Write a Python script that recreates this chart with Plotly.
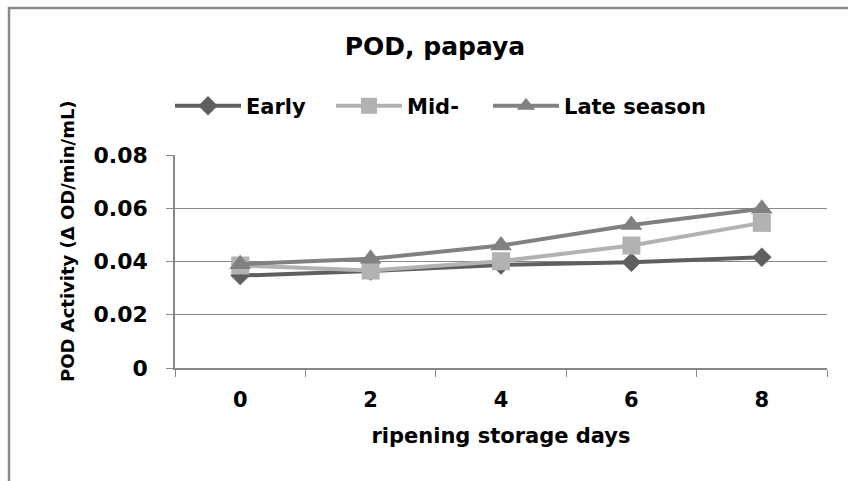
import plotly.graph_objects as go

days = ["0", "2", "4", "6", "8"]
early = [0.0347, 0.0364, 0.0387, 0.0397, 0.0416]
mid = [0.0385, 0.0366, 0.0401, 0.0460, 0.0545]
late = [0.0390, 0.0410, 0.0460, 0.0537, 0.0598]
series_names = ["Early", "Mid-", "Late season"]
y_ticks = [0, 0.02, 0.04, 0.06, 0.08]
y_tick_text = ["0", "0.02", "0.04", "0.06", "0.08"]

FONT = "DejaVu Sans, sans-serif"

W, H = 848, 481
L, R, T, B = 175, 21, 155, 113
pw, ph = W - L - R, H - T - B

def px_x(x):
    return (x - L) / pw

def px_y(y):
    return (H - B - y) / ph

fig = go.Figure()
fig.add_trace(go.Scatter(x=days, y=early, name=series_names[0], mode="lines+markers",
                         line=dict(color="#5f5f5f", width=4), legend="legend",
                         marker=dict(symbol="diamond", size=15, color="#5f5f5f")))
fig.add_trace(go.Scatter(x=days, y=mid, name=series_names[1], mode="lines+markers",
                         line=dict(color="#b2b2b2", width=4), legend="legend2",
                         marker=dict(symbol="square", size=18, color="#b2b2b2")))
fig.add_trace(go.Scatter(x=days, y=late, name=series_names[2], mode="lines+markers",
                         line=dict(color="#818181", width=4), legend="legend3",
                         marker=dict(symbol="triangle-up", size=19, color="#818181")))

def leg(xpx):
    return dict(orientation="h", x=px_x(xpx), xanchor="left", y=px_y(106), yanchor="middle",
                font=dict(family=FONT, size=21, color="black", weight="bold"),
                itemwidth=66, bgcolor="rgba(0,0,0,0)")

fig.update_layout(
    width=W, height=H,
    margin=dict(l=L, r=R, t=T, b=B),
    paper_bgcolor="white", plot_bgcolor="white",
    font=dict(family=FONT, size=21, color="black", weight="bold"),
    title=dict(text="POD, papaya", x=px_x(435), xref="paper", xanchor="center",
               y=1 - 46 / H, yref="container", yanchor="middle",
               font=dict(family=FONT, size=25, color="black", weight="bold")),
    showlegend=True,
    legend=leg(170), legend2=leg(331), legend3=leg(488),
    xaxis=dict(type="category", range=[-0.5, 4.5], tickson="boundaries", ticks="outside",
               ticklen=7, tickcolor="#888888", showline=True, linecolor="#888888",
               linewidth=1.5, showgrid=False, ticklabelstandoff=12,
               tickfont=dict(family=FONT, size=21, color="black", weight="bold"),
               title=dict(text="ripening storage days", standoff=17,
                          font=dict(family=FONT, size=21, color="black", weight="bold"))),
    yaxis=dict(range=[0, 0.08], tickvals=y_ticks, ticktext=y_tick_text,
               ticks="outside", ticklen=7, tickcolor="#888888",
               showline=True, linecolor="#888888", linewidth=1.5,
               showgrid=True, gridcolor="#888888", gridwidth=1.2,
               zeroline=False, ticklabelstandoff=14,
               tickfont=dict(family=FONT, size=22, color="black", weight="bold")),
)

fig.add_annotation(text="POD Activity (Δ OD/min/mL)", textangle=-90,
                   x=px_x(67), y=px_y(241), xref="paper", yref="paper",
                   showarrow=False, xanchor="center", yanchor="middle",
                   font=dict(family=FONT, size=18, color="black", weight="bold"))

# outer chart frame
fig.add_shape(type="rect", xref="paper", yref="paper",
              x0=px_x(9), y0=px_y(520), x1=px_x(900), y1=px_y(8),
              line=dict(color="#8a8a8a", width=2.5), layer="below")

fig.write_html("out.html")
